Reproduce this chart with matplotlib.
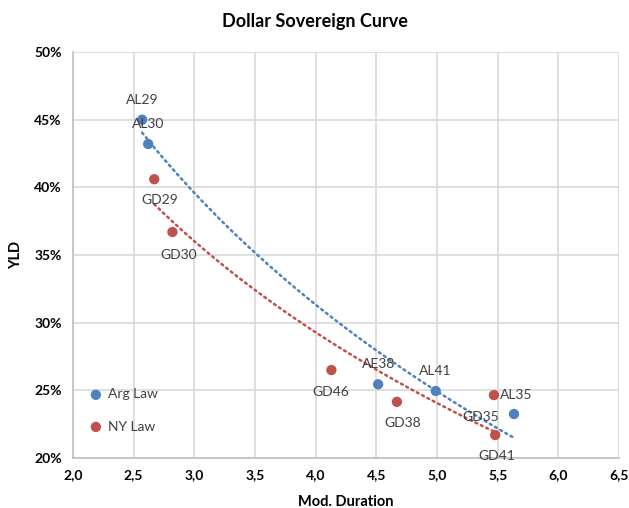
import numpy as np
import matplotlib
matplotlib.use("Agg")
import matplotlib.pyplot as plt
from matplotlib.ticker import FuncFormatter, MultipleLocator

plt.rcParams['font.family'] = ['Lato', 'DejaVu Sans']

# Data
arg_labels = ["AL29", "AL30", "AE38", "AL41", "GD35"]
arg_dur = [2.57, 2.62, 4.515, 4.99, 5.635]
arg_yld = [45.0, 43.2, 25.45, 24.95, 23.25]

ny_labels = ["GD29", "GD30", "GD46", "GD38", "AL35", "GD41"]
ny_dur = [2.67, 2.82, 4.13, 4.67, 5.47, 5.48]
ny_yld = [40.6, 36.7, 26.5, 24.15, 24.65, 21.7]

series_names = ["Arg Law", "NY Law"]

BLUE = "#4F81BD"
RED = "#C0504D"

fig = plt.figure(figsize=(6.29, 5.08), dpi=100)
ax = fig.add_axes([0.116, 0.0984, 0.868, 0.7992])

ax.scatter(arg_dur, arg_yld, s=55, color=BLUE, zorder=3, label=series_names[0], edgecolors='none')
ax.scatter(ny_dur, ny_yld, s=55, color=RED, zorder=3, label=series_names[1], edgecolors='none')

# Logarithmic trendlines
for xs, ys, c in [(arg_dur, arg_yld, BLUE), (ny_dur, ny_yld, RED)]:
    b, a = np.polyfit(np.log(xs), ys, 1)
    xx = np.linspace(min(xs), max(xs), 200)
    ax.plot(xx, a + b * np.log(xx), color=c, lw=1.8, linestyle=(0, (0.8, 1.6)),
            dash_capstyle='round', zorder=2)

# Data labels
arg_off = [(0, 20), (0, 20), (0, 20), (0, 20), (-33, -3)]
ny_off = [(5, -21), (6, -23), (-1, -22), (6, -21), (22, 0), (2, -21)]
for lab, x, y, off in zip(arg_labels, arg_dur, arg_yld, arg_off):
    ax.annotate(lab, (x, y), xytext=off, textcoords='offset pixels', ha='center', va='center',
                fontsize=10, color='#404040', zorder=4)
for lab, x, y, off in zip(ny_labels, ny_dur, ny_yld, ny_off):
    ax.annotate(lab, (x, y), xytext=off, textcoords='offset pixels', ha='center', va='center',
                fontsize=10, color='#404040', zorder=4)

ax.set_xlim(2.0, 6.5)
ax.set_ylim(20, 50)
ax.xaxis.set_major_locator(MultipleLocator(0.5))
ax.yaxis.set_major_locator(MultipleLocator(5))
ax.xaxis.set_major_formatter(FuncFormatter(lambda v, p: f"{v:.1f}".replace('.', ',')))
ax.yaxis.set_major_formatter(FuncFormatter(lambda v, p: f"{v:.0f}%"))

ax.grid(True, color='#D9D9D9', lw=1.2)
ax.set_axisbelow(True)
for s in ['top', 'right']:
    ax.spines[s].set_visible(False)
for s in ['left', 'bottom']:
    ax.spines[s].set_color('#BFBFBF')
    ax.spines[s].set_linewidth(1.2)
ax.tick_params(length=0, labelsize=10, pad=8, colors='black')
for t in ax.get_xticklabels() + ax.get_yticklabels():
    t.set_fontweight('bold')

ax.set_xlabel("Mod. Duration", fontsize=10.5, fontweight='bold', labelpad=10)
ax.set_ylabel("YLD", fontsize=10.5, fontweight='bold', labelpad=8)
fig.suptitle("Dollar Sovereign Curve", fontsize=13, fontweight='bold', y=0.975)

leg = ax.legend(loc='center left', bbox_to_anchor=(0.0, 0.117), frameon=False,
                fontsize=10, labelspacing=1.45, handletextpad=0.1, markerscale=1.0,
                handlelength=1.5)
for t in leg.get_texts():
    t.set_color('#404040')

fig.savefig("out.png", dpi=100)
